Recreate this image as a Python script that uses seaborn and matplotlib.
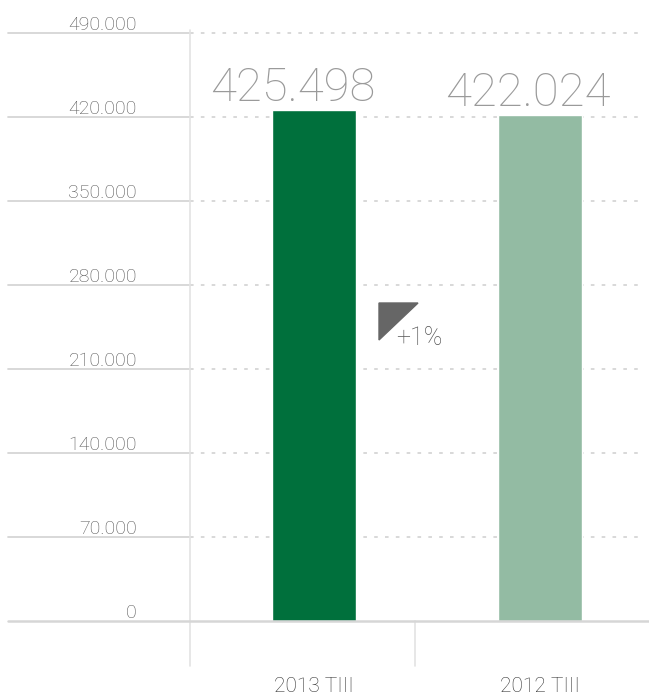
import pandas as pd
import matplotlib.pyplot as plt
import seaborn as sns

# datos
categorias = ["2013 TIII", "2012 TIII"]
valores = [425498, 422024]
etiquetas_valor = ["425.498", "422.024"]
colores = ["#00703c", "#93bba3"]
ticks_y = [0, 70000, 140000, 210000, 280000, 350000, 420000, 490000]
ticks_txt = ["0", "70.000", "140.000", "210.000", "280.000", "350.000", "420.000", "490.000"]
variacion = "+1%"

df = pd.DataFrame({"cat": categorias, "valor": valores})

sns.set_style("white")
plt.rcParams['font.family'] = ['Liberation Sans', 'DejaVu Sans']

fig = plt.figure(figsize=(6.49, 6.96), dpi=100)
ax = fig.add_axes([0, 0, 1, 1])

sns.barplot(data=df, x="cat", y="valor", hue="cat", palette=colores,
            width=0.37, legend=False, ax=ax, saturation=1)

# escala en pixeles: categorias en x=314 y x=540, cero en y=621
px = 226.0
def fx(p):
    return (p - 314) / px
vpp = 70000 / 84.0
def fy(p):
    return (621 - p) * vpp

ax.set_xlim(fx(0), fx(649))
ax.set_ylim(fy(696), fy(0))
ax.axis("off")

gris = "#d6d6d6"
for t, txt in zip(ticks_y, ticks_txt):
    if t > 0:
        ax.plot([fx(8), fx(190)], [t, t], color=gris, lw=1.3, zorder=0)
        ax.plot([fx(190), fx(640)], [t, t], color=gris, lw=1.3, ls=(0, (2, 4)), zorder=0)
    ax.text(fx(137), t + 3 * vpp, txt, ha="right", va="baseline", fontsize=14,
            color="#555555", family=['Roboto', 'Liberation Sans'], fontweight="light")

ax.plot([fx(8), fx(649)], [0, 0], color=gris, lw=1.8, zorder=3)
ax.plot([fx(190), fx(190)], [fy(666), fy(30)], color="#e3e3e3", lw=1.2, zorder=0)
ax.plot([fx(415), fx(415)], [fy(666), 0], color="#e3e3e3", lw=1.2, zorder=0)

desplaz = [-21, -12]
for i, (v, txt) in enumerate(zip(valores, etiquetas_valor)):
    ax.text(i + desplaz[i] / px, v + 9 * vpp, txt, ha="center", va="baseline", fontsize=34,
            color="#9a9a9a", family=['Roboto', 'Liberation Sans'], fontweight="light")
    ax.text(i, fy(692), categorias[i], ha="center", va="baseline", fontsize=15,
            color="#333333", family=['Roboto', 'Liberation Sans'], fontweight="light")

# indicador de variacion
ax.fill([fx(379), fx(418), fx(379)], [fy(303), fy(303), fy(340)], color="#666666", zorder=4)
ax.text(fx(396), fy(345), variacion, ha="left", va="baseline", fontsize=18,
        color="#555555", family=['Roboto', 'Liberation Sans'], fontweight="light")

plt.savefig("out.png", dpi=100)
